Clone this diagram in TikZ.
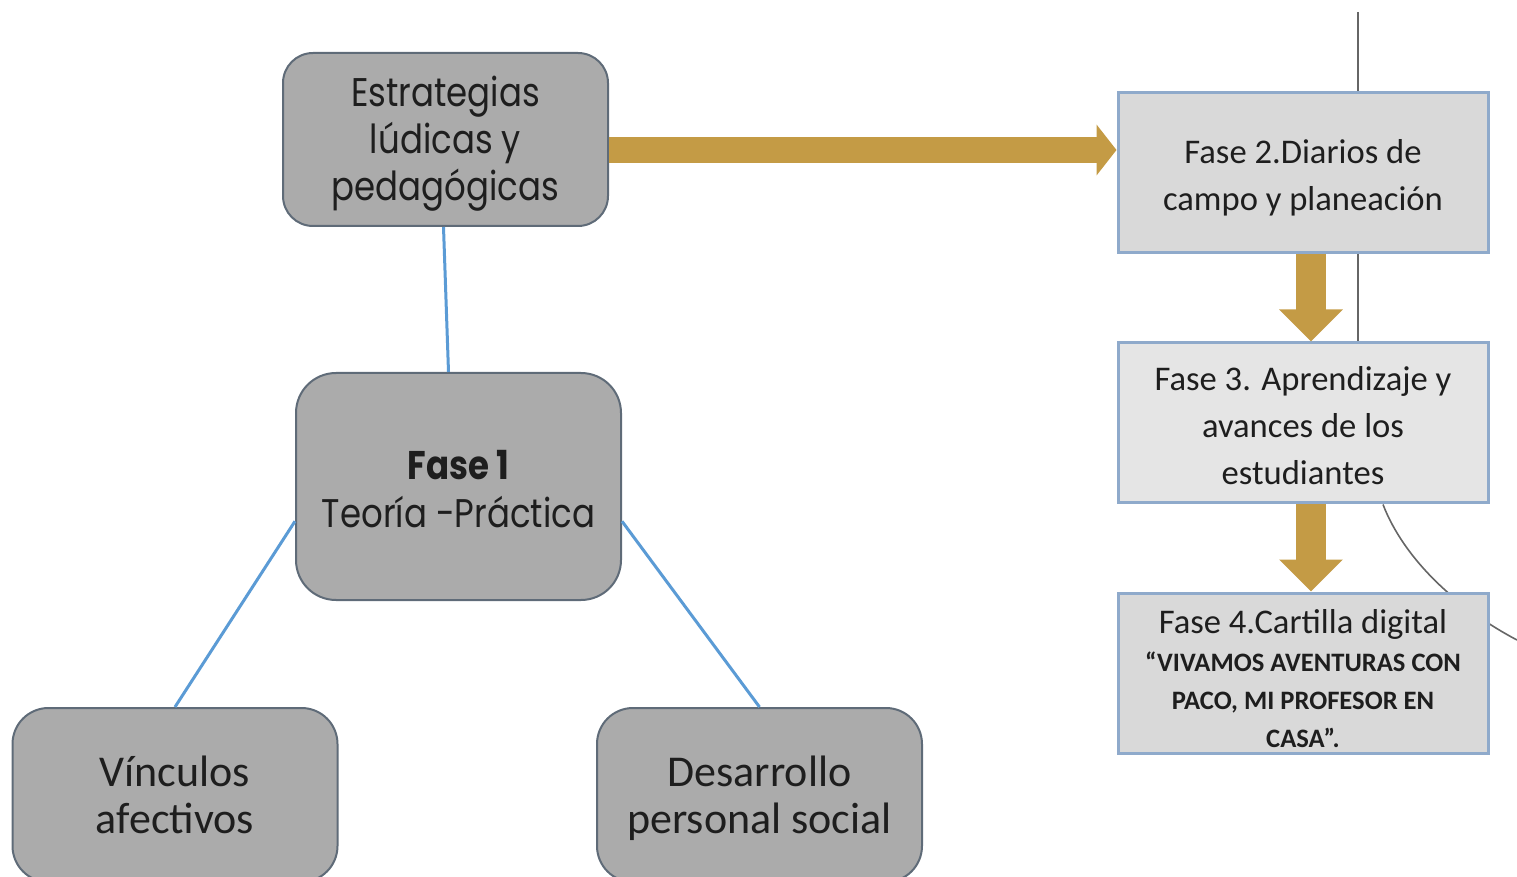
\documentclass[tikz,border=0pt]{standalone}
\usepackage{fontspec}
\setmainfont{Carlito}
\newfontfamily\popfont[FakeStretch=0.85]{Poppins}
\usetikzlibrary{arrows.meta,backgrounds}
\definecolor{boxgray}{HTML}{ABABAB}
\definecolor{boxline}{HTML}{5F6B78}
\definecolor{fasegray}{HTML}{D9D9D9}
\definecolor{fasegraylight}{HTML}{E5E5E5}
\definecolor{faseline}{HTML}{8FAACB}
\definecolor{gold}{HTML}{C49B45}
\definecolor{linkblue}{HTML}{5B9BD5}
\definecolor{txt}{HTML}{1E1E1E}
\newcommand\cartillacaps{\bfseries\fontsize{13.3}{18.5}\selectfont}
\newcommand\topstrut[1]{\rule{0pt}{#1}}

\begin{document}
\begin{tikzpicture}[x=0.5pt,y=-0.5pt,
	roundbox/.style={draw=boxline, fill=boxgray, line width=1pt, align=center, text=txt, inner sep=0pt, minimum width=162.5pt},
	fasebox/.style={draw=faseline, fill=fasegray, line width=1.5pt, minimum width=185pt, minimum height=80pt, inner sep=0pt, align=center, text=txt, font=\fontsize{17.3}{23.5}\selectfont},
	link/.style={linkblue, line width=1.5pt},
	goldarrow/.style={gold, line width=13pt, -{Triangle[width=25pt,length=10pt]}},
	downarrow/.style={gold, line width=15pt, -{Triangle[width=31pt,length=16pt]}},
	thread/.style={black!60, line width=0.8pt}]
					\useasboundingbox (0,0) rectangle (1517,877);
					\clip (0,0) rectangle (1517,877);

					\node[roundbox, rounded corners=15pt, minimum height=86.5pt, font=\popfont\fontsize{20}{23.5}\selectfont] (estrategias) at (445.5,139.5) {\topstrut{19pt}Estrategias\\lúdicas y\\pedagógicas};
					\node[roundbox, rounded corners=20pt, minimum height=113.5pt, font=\popfont\fontsize{20}{24}\selectfont] (fase1) at (458.5,486.5) {\topstrut{17pt}\textbf{Fase 1}\\Teoría -Práctica};
					\node[roundbox, rounded corners=18pt, minimum height=87pt, font=\fontsize{22}{23.5}\selectfont] (vinculos) at (175,795) {Vínculos\\afectivos};
					\node[roundbox, rounded corners=18pt, minimum height=87pt, font=\fontsize{22}{23.5}\selectfont] (desarrollo) at (759.5,795) {\topstrut{19pt}Desarrollo\\personal social};

					\node[fasebox] (fase2) at (1303,172.5) {\topstrut{17pt}Fase 2.Diarios de\\campo y planeación};
					\node[fasebox, fill=fasegraylight] (fase3) at (1303,423) {\topstrut{14.5pt}Fase 3. Aprendizaje y\\avances de los\\estudiantes};
					\node[fasebox, font=\fontsize{17.3}{19}\selectfont] (fase4) at (1303,673) {\topstrut{17.5pt}Fase 4.Cartilla digital\\\cartillacaps “VIVAMOS AVENTURAS CON\\\cartillacaps PACO, MI PROFESOR EN\\\cartillacaps CASA”.};

					\coordinate (threadtop) at (1358,12);
					\coordinate (threadend) at (1517,640);
					\begin{scope}[on background layer]
					\draw[thread] (threadtop) -- (threadtop |- fase3.north);
					\draw[thread] ([xshift=40pt]fase3.south) .. controls +(22,57) and +(-57,-30) .. (threadend);
					\end{scope}

					\path[link]
					([xshift=-1pt]estrategias.south) edge ([xshift=-5pt]fase1.north)
					(fase1.192) edge (vinculos.north)
					(fase1.348) edge (desarrollo.north)
					;
					\draw[goldarrow] ([yshift=-5.25pt]estrategias.east) -- ([yshift=11.25pt]fase2.west);
					\draw[downarrow] ([xshift=4pt]fase2.south) -- ([xshift=4pt]fase3.north);
					\draw[downarrow] ([xshift=4pt]fase3.south) -- ([xshift=4pt]fase4.north);
				\end{tikzpicture}
\end{document}
